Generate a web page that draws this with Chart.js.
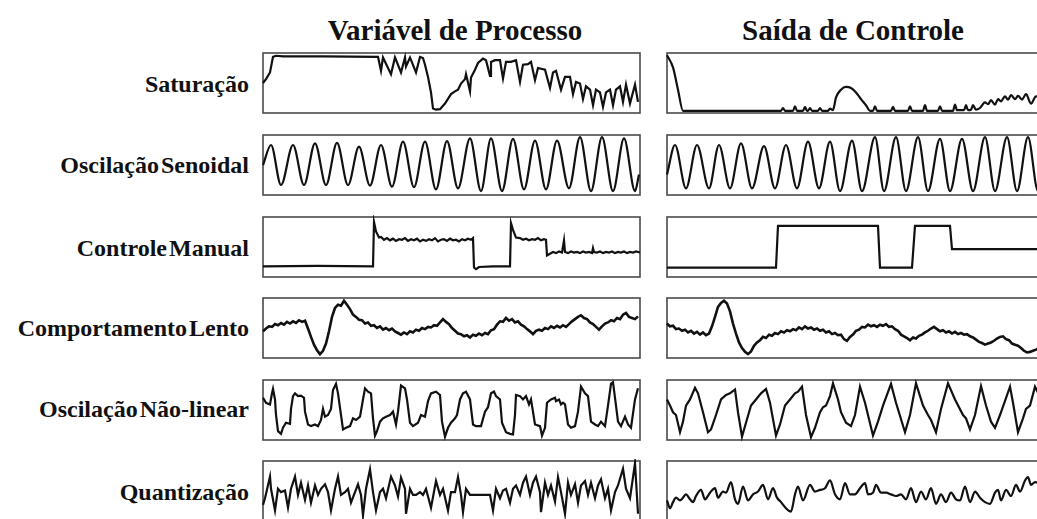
<!DOCTYPE html>
<html>
<head>
<meta charset="utf-8">
<script src="https://cdn.jsdelivr.net/npm/chart.js@4.4.1/dist/chart.umd.min.js"></script>
<style>
    body {
        margin: 0;
        width: 1037px;
        height: 519px;
        overflow: hidden;
        background: #fff;
        position: relative;
        font-family: "Liberation Serif", "DejaVu Serif", serif;
        color: #111;
    }
    .col-title, .row-label {
        position: absolute;
        font-weight: bold;
        line-height: 1;
        white-space: nowrap;
    }
    .col-title {
        font-size: 29px;
        transform: translate(-50%, -50%);
    }
    .row-label {
        font-size: 24px;
        word-spacing: -4px;
        transform: translate(-100%, -50%);
    }
    .panel {
        position: absolute;
    }
</style>
</head>
<body>
<script>
// Textos
const columnTitles = ['Variável de Processo', 'Saída de Controle'];
const rowLabels = ['Saturação', 'Oscilação Senoidal', 'Controle Manual', 'Comportamento Lento', 'Oscilação Não-linear', 'Quantização'];

// Séries (tempo, valor em % da faixa)
const satPV = [0,50, 3,57, 7,69, 10,97, 13,99, 20,98, 60,98, 115,97,
    118,72, 120,96, 128,66, 132,96, 138,69, 142,96, 143,80, 147,96, 153,69, 157,97, 160,95,
    162,83, 165,61, 168,33, 170,4, 173,2, 177,3, 182,13, 188,30, 192,35, 195,38, 198,49, 202,57,
    203,66, 207,35, 208,60, 212,74, 215,86, 220,94, 223,91, 227,63, 228,88, 232,91, 237,91,
    240,58, 243,88, 248,88, 253,91, 257,52, 260,83, 265,84, 268,88, 272,55, 275,77, 282,74,
    287,41, 290,69, 293,72, 298,38, 302,61, 307,61, 310,30, 313,52, 317,49, 320,21, 323,44,
    327,38, 330,10, 333,38, 337,33, 340,7, 343,33, 347,38, 350,10, 353,38, 357,44, 360,16,
    363,47, 367,13, 372,47, 375,16];
const satOP = [0,100, 6,78, 11,38, 16,0, 114,0, 116,5, 118,0, 126,0, 128,8, 130,0, 136,0, 138,7,
    140,0, 141,0, 143,5, 145,0, 151,0, 153,5, 155,0, 161,0, 163,4, 166,1, 169,24, 174,38, 179,43,
    184,41, 189,33, 194,21, 199,10, 203,0, 206,0, 208,8, 210,0, 224,0, 226,7, 228,0, 241,0, 243,8,
    245,0, 256,0, 258,10, 260,0, 271,0, 273,8, 275,0, 286,0, 288,11, 290,1, 297,1, 299,10, 301,1,
    304,2, 306,10, 309,2, 313,5, 318,15, 321,12, 324,19, 328,11, 331,21, 334,17, 338,26, 341,20,
    344,28, 348,21, 351,27, 355,20, 359,30, 364,13, 369,26, 377,20];

const sinePV = [0,50, 8,86, 18,14, 30,86, 41,14, 52,89, 63,14, 74,90, 85,14, 96,83, 107,13,
    118,86, 129,11, 140,92, 151,10, 162,92, 173,6, 184,93, 195,8, 207,98, 218,3, 228,98, 239,3,
    250,97, 261,6, 272,94, 283,6, 294,94, 306,8, 317,100, 328,3, 339,100, 350,3, 361,98, 372,3, 376,33];
const sineOP = [0,33, 8,86, 19,8, 30,86, 42,8, 52,86, 63,8, 74,89, 85,8, 97,84, 108,8, 119,86,
    130,8, 141,92, 152,8, 163,92, 173,3, 185,94, 195,3, 208,100, 217,3, 229,100, 239,3, 251,100,
    261,3, 273,97, 283,3, 295,97, 306,3, 318,100, 328,3, 340,100, 350,3, 361,100, 371,3, 377,40];

const manualPV = [0,15, 55,16, 110,15, 111,95, 113,78, 116,67, 118,68, 121,63, 124,66, 127,62,
    130,65, 133,61, 136,64, 139,63, 142,66, 145,61, 148,64, 151,62, 154,65, 157,60, 160,63, 163,61,
    166,64, 169,62, 172,66, 175,60, 178,63, 181,64, 184,61, 187,65, 190,62, 193,63, 196,60, 199,64,
    202,62, 205,65, 208,63, 210,66, 211,13, 213,10, 216,14, 230,15, 247,15, 248,93, 250,81, 253,67,
    257,66, 260,63, 263,65, 266,62, 269,64, 272,63, 275,66, 278,62, 281,64, 283,63, 284,35, 287,38,
    290,41, 293,39, 296,42, 299,40, 301,62, 302,41, 305,39, 308,42, 311,40, 314,41, 317,39, 320,42,
    323,40, 326,41, 329,39, 330,48, 331,41, 334,40, 337,42, 340,39, 343,41, 346,40, 349,42, 352,39,
    355,41, 358,40, 361,42, 364,39, 367,41, 370,40, 373,42, 377,40];
const manualOP = [0,13, 109,13, 111,88, 211,88, 213,13, 245,13, 248,88, 283,88, 285,46, 377,46];

// amostradas a cada 3 unidades de tempo
const slowPV = [44,49,53,52,57,55,59,56,61,58, 62,59,64,61,63,49,34,20,10,3,
    9,22,44,70,86,92,90,99,92,84, 74,70,65,64,58,60,54,55,50,53,
    47,50,46,49,44,41,38,42,39,44, 42,47,45,50,48,52,51,55,54,60,
    66,61,57,50,45,40,39,35,37,33, 38,36,40,37,41,39,46,48,56,62,
    61,68,63,66,60,62,56,53,48,44, 39,45,47,45,50,48,53,50,54,51,
    55,52,57,62,66,70,73,68,66,60, 57,52,47,53,58,60,64,62,68,66,
    74,77,70,68,66,71];
const slowOP = [58,53,54,48,49,45,47,42,45,40, 43,38,42,37,40,53,70,88,95,99,
    94,80,58,40,24,14,7,3,8,18, 24,28,34,32,38,36,41,39,44,42,
    46,44,48,46,51,48,53,49,51,47, 49,45,47,42,44,39,41,37,38,30,
    27,34,38,45,47,52,51,56,53,55, 52,56,54,57,52,53,48,45,38,35,
    32,28,33,31,36,38,42,45,49,52, 48,44,46,42,44,40,43,39,41,38,
    39,35,33,29,25,23,20,22,24,27, 31,34,35,30,28,22,20,18,14,9,
    6,7,9,11,14,12];
const SLOW_STEP = 3;

const nonlinPV = [0,72, 3,63, 7,60, 9,80, 10,88, 12,69, 13,41, 15,12, 18,7, 20,18, 23,27, 27,25,
    28,52, 30,75, 32,80, 35,75, 38,76, 41,72, 42,47, 45,24, 48,21, 52,24, 55,21, 58,32, 60,52,
    62,38, 65,41, 68,52, 70,86, 73,97, 75,80, 78,41, 80,15, 83,18, 87,21, 90,35, 93,32, 97,38,
    100,69, 102,89, 105,83, 108,80, 110,35, 112,4, 114,12, 117,29, 120,35, 123,38, 127,41, 130,47,
    133,24, 135,47, 138,94, 142,89, 144,69, 147,27, 150,21, 155,27, 158,41, 162,38, 165,66, 168,80,
    173,83, 177,77, 179,29, 182,2, 185,18, 188,27, 192,35, 194,41, 197,69, 200,80, 203,83, 207,69,
    210,24, 213,21, 218,21, 222,47, 225,55, 228,80, 231,83, 233,75, 237,69, 239,27, 243,10, 247,7,
    250,6, 252,41, 253,77, 257,75, 260,69, 263,75, 266,60, 268,69, 272,24, 277,21, 279,4, 282,18,
    284,63, 288,69, 292,72, 293,66, 296,69, 298,60, 300,63, 302,60, 305,24, 308,18, 312,21, 315,47,
    318,92, 322,80, 325,75, 328,29, 332,24, 335,21, 338,29, 342,21, 345,58, 348,97, 350,100, 353,58,
    355,29, 358,21, 362,38, 365,24, 368,18, 372,69, 375,89];
const nonlinOP = [0,69, 3,58, 6,46, 9,41, 13,10, 16,29, 19,58, 23,69, 28,90, 31,80, 36,46, 41,10,
    44,15, 49,41, 54,69, 59,77, 63,80, 68,87, 71,46, 75,2, 79,27, 84,58, 89,69, 94,80, 99,88, 103,63,
    109,4, 113,24, 118,58, 123,69, 128,80, 131,83, 135,92, 139,41, 144,1, 148,18, 153,46, 156,55,
    159,58, 163,75, 166,98, 171,69, 174,46, 179,27, 184,21, 188,41, 193,92, 198,63, 206,4, 211,29,
    216,58, 224,97, 229,63, 238,10, 243,41, 249,98, 256,58, 261,41, 264,32, 269,10, 274,52, 281,98,
    288,69, 296,41, 299,35, 303,15, 308,41, 314,93, 319,58, 324,29, 328,18, 333,41, 343,92, 346,63,
    351,10, 356,35, 359,52, 363,58, 368,92, 377,60];

const quantPV = [0,25, 2,37, 7,76, 8,54, 12,15, 15,54, 18,48, 22,51, 25,20, 28,54, 32,76, 35,43,
    38,65, 42,34, 45,60, 48,29, 52,60, 55,43, 58,54, 62,62, 65,48, 68,15, 72,54, 75,76, 78,43,
    82,48, 85,54, 88,29, 92,48, 95,62, 98,43, 100,6, 103,54, 107,89, 110,48, 113,15, 117,48,
    120,54, 123,37, 128,76, 132,60, 135,40, 138,74, 142,54, 143,9, 147,54, 150,43, 153,43, 157,48,
    160,43, 163,54, 168,20, 173,68, 177,43, 180,54, 185,15, 188,48, 192,48, 195,75, 198,43, 200,12,
    203,54, 207,43, 227,43, 230,15, 233,54, 237,37, 240,51, 243,54, 247,29, 250,54, 253,60, 257,43,
    260,65, 263,76, 267,43, 270,65, 273,76, 277,48, 278,12, 282,65, 285,43, 288,60, 292,31, 295,75,
    298,48, 302,9, 305,65, 308,43, 312,62, 315,29, 318,60, 322,68, 325,43, 328,65, 332,37, 335,60,
    338,71, 342,37, 345,54, 348,15, 352,48, 355,60, 360,90, 363,54, 367,37, 372,100, 375,9];
const quantOP = [0,33, 3,19, 6,30, 9,38, 13,33, 16,38, 19,44, 23,35, 26,30, 29,41, 34,52, 38,35,
    43,47, 48,55, 51,38, 56,49, 59,47, 64,66, 68,35, 71,27, 76,58, 81,33, 86,44, 91,49, 96,61,
    101,35, 106,55, 110,38, 114,30, 119,19, 124,13, 128,44, 131,58, 136,33, 143,61, 148,49, 153,52,
    158,55, 163,69, 168,44, 173,35, 178,64, 183,44, 188,44, 193,55, 198,64, 201,44, 206,47, 209,61,
    214,47, 219,47, 224,44, 229,41, 234,44, 239,35, 244,55, 249,30, 254,49, 259,35, 264,55, 269,27,
    274,44, 279,30, 284,47, 289,35, 293,33, 298,58, 303,30, 308,49, 313,38, 318,30, 323,27, 328,47,
    331,52, 334,33, 339,52, 344,41, 349,61, 353,49, 358,69, 361,75, 364,61, 368,66, 377,60];

// Layout
const COL_LEFT = [263, 667];
const ROW_TOP = [53, 135, 217, 298, 380, 461];
const PANEL_W = 377;
const PANEL_H = 60;
const PAD = 2;
const TITLE_POS = [[455, 30], [853, 30]];
const LABEL_RIGHT = 249;
const LABEL_Y = [84, 165, 248, 328, 409, 492];

function pairs(flat) {
    const out = [];
    for (let i = 0; i < flat.length; i += 2) out.push({ x: flat[i], y: flat[i + 1] });
    return out;
}

function samples(values, step) {
    return values.map((v, i) => ({ x: i * step, y: v }));
}

// moldura de cada painel
const frame = {
    id: 'frame',
    beforeDatasetsDraw(chart) {
        const { ctx, chartArea: a } = chart;
        ctx.save();
        ctx.strokeStyle = '#4a4a4a';
        ctx.lineWidth = 1.6;
        ctx.strokeRect(a.left, a.top, a.right - a.left, a.bottom - a.top);
        ctx.restore();
    }
};

const panels = [
    [{ data: pairs(satPV) }, { data: pairs(satOP), smooth: true }],
    [{ data: pairs(sinePV), smooth: true }, { data: pairs(sineOP), smooth: true }],
    [{ data: pairs(manualPV) }, { data: pairs(manualOP) }],
    [{ data: samples(slowPV, SLOW_STEP), width: 2.6 }, { data: samples(slowOP, SLOW_STEP), width: 2.6 }],
    [{ data: pairs(nonlinPV) }, { data: pairs(nonlinOP) }],
    [{ data: pairs(quantPV) }, { data: pairs(quantOP), smooth: true }]
];

columnTitles.forEach((t, i) => {
    const el = document.createElement('div');
    el.className = 'col-title';
    el.textContent = t;
    el.style.left = TITLE_POS[i][0] + 'px';
    el.style.top = TITLE_POS[i][1] + 'px';
    document.body.appendChild(el);
});

rowLabels.forEach((t, r) => {
    const el = document.createElement('div');
    el.className = 'row-label';
    el.textContent = t;
    el.style.left = LABEL_RIGHT + 'px';
    el.style.top = LABEL_Y[r] + 'px';
    document.body.appendChild(el);
});

panels.forEach((row, r) => {
    row.forEach((p, c) => {
        const canvas = document.createElement('canvas');
        canvas.className = 'panel';
        canvas.width = PANEL_W + 2 * PAD;
        canvas.height = PANEL_H + 2 * PAD;
        canvas.style.left = (COL_LEFT[c] - PAD) + 'px';
        canvas.style.top = (ROW_TOP[r] - PAD) + 'px';
        document.body.appendChild(canvas);

        new Chart(canvas, {
            type: 'line',
            data: {
                datasets: [{
                    data: p.data,
                    borderColor: '#111',
                    borderWidth: p.width || 2.2,
                    pointRadius: 0,
                    fill: false,
                    clip: false,
                    cubicInterpolationMode: p.smooth ? 'monotone' : 'default',
                    tension: 0
                }]
            },
            options: {
                responsive: false,
                animation: false,
                events: [],
                layout: { padding: PAD },
                plugins: { legend: { display: false }, tooltip: { enabled: false } },
                scales: {
                    x: { type: 'linear', min: 0, max: PANEL_W, display: false },
                    y: { min: -4, max: 104, display: false }
                }
            },
            plugins: [frame]
        });
    });
});
</script>
</body>
</html>
